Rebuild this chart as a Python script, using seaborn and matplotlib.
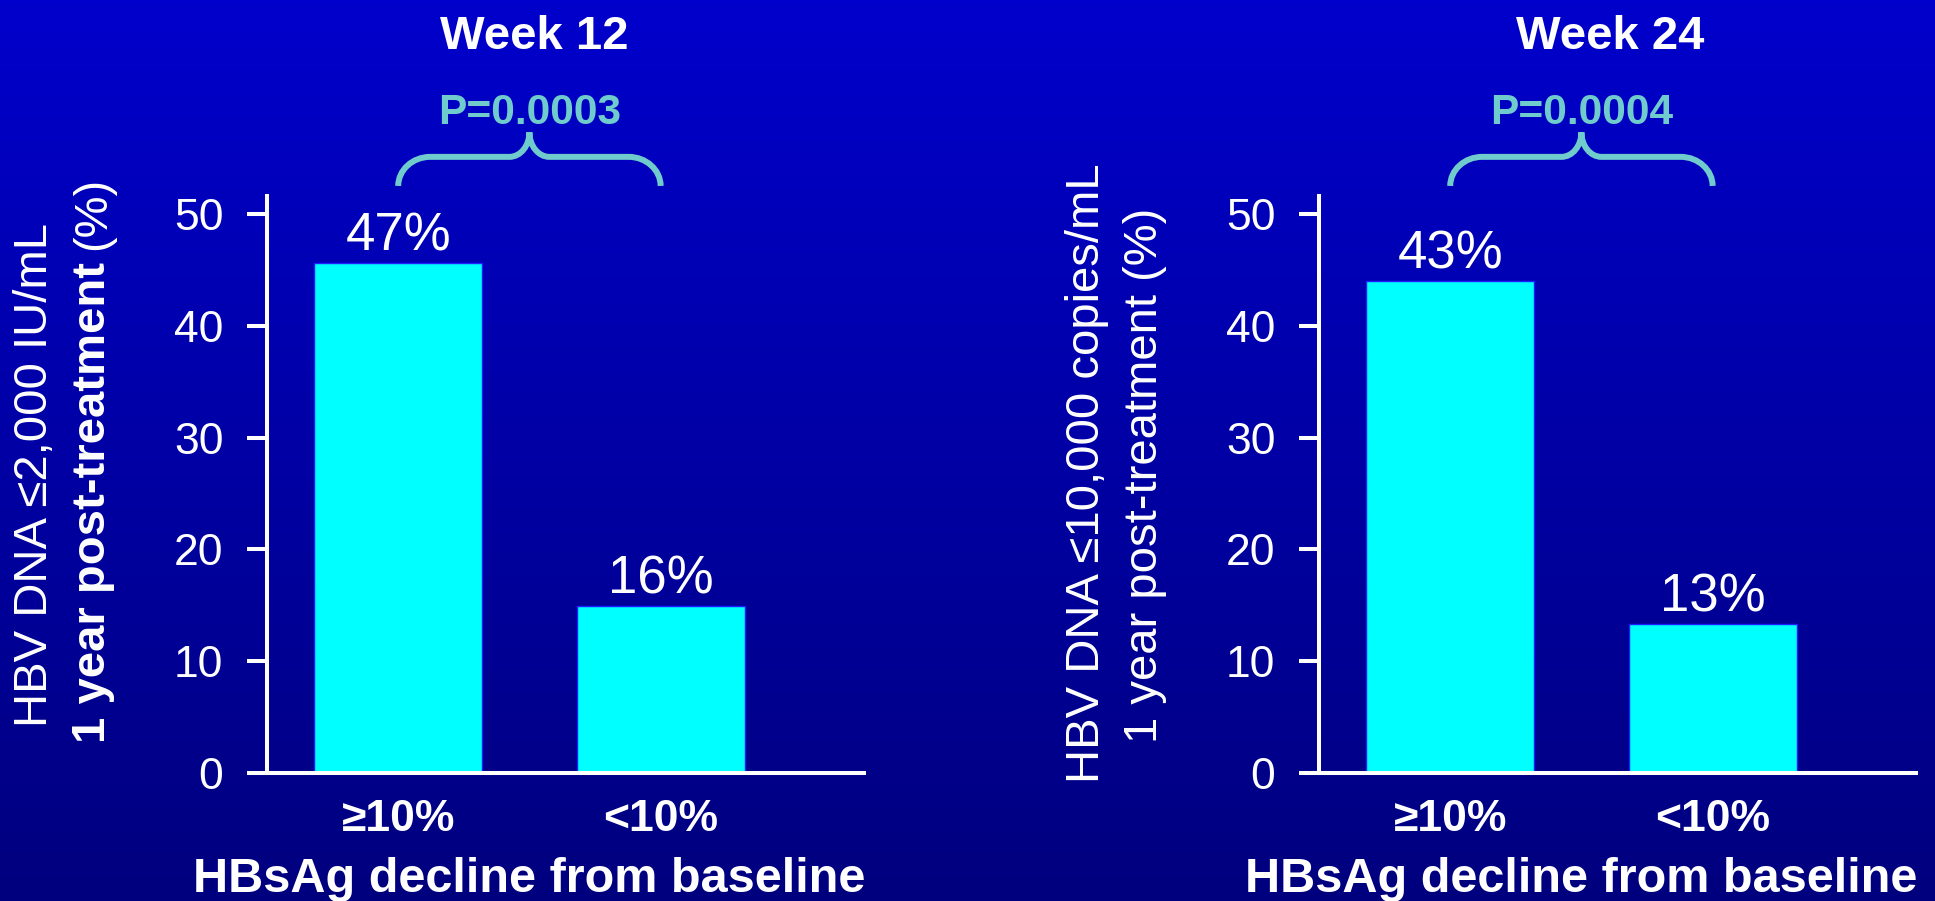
import numpy as np
import matplotlib
matplotlib.use("Agg")
import matplotlib.pyplot as plt
import seaborn as sns
from matplotlib.path import Path
from matplotlib.patches import PathPatch
from matplotlib.colors import LinearSegmentedColormap

# data
groups = ["≥10%", "<10%"]
week12_values = [45.6, 14.9]
week12_labels = ["47%", "16%"]
week24_values = [44.0, 13.3]
week24_labels = ["43%", "13%"]
titles = ["Week 12", "Week 24"]
p_values = ["P=0.0003", "P=0.0004"]
y_ticks = [0, 10, 20, 30, 40, 50]
x_label = "HBsAg decline from baseline"

sns.set_theme(style="white")
plt.rcParams["font.family"] = ["Liberation Sans", "DejaVu Sans"]

W, H = 1935, 901
fig = plt.figure(figsize=(W / 100, H / 100), dpi=100)

# slide background: blue gradient, lighter at the top
bg = fig.add_axes([0, 0, 1, 1], zorder=-10)
grad = np.linspace(0, 1, 256).reshape(-1, 1)
cmap = LinearSegmentedColormap.from_list("slide", ["#0000CC", "#00007E"])
bg.imshow(grad, aspect="auto", cmap=cmap, extent=[0, 1, 0, 1])
bg.axis("off")

teal = "#70CCCC"
cyan = "#00FFFF"


def draw_brace(ax, x0, x1, yb, yh, yt):
    # curly brace from bar centre to bar centre, opening downwards
    rx1, rx2 = 0.122, 0.076
    k = 0.55
    xc = (x0 + x1) / 2
    ry1 = yh - yb
    ry2 = yt - yh
    verts = [
        (x0, yb),
        (x0, yb + k * ry1), (x0 + rx1 - k * rx1, yh), (x0 + rx1, yh),
        (xc - rx2, yh),
        (xc - rx2 + k * rx2, yh), (xc, yt - k * ry2), (xc, yt),
        (xc, yt - k * ry2), (xc + rx2 - k * rx2, yh), (xc + rx2, yh),
        (x1 - rx1, yh),
        (x1 - rx1 + k * rx1, yh), (x1, yb + k * ry1), (x1, yb),
    ]
    codes = [Path.MOVETO,
             Path.CURVE4, Path.CURVE4, Path.CURVE4,
             Path.LINETO,
             Path.CURVE4, Path.CURVE4, Path.CURVE4,
             Path.CURVE4, Path.CURVE4, Path.CURVE4,
             Path.LINETO,
             Path.CURVE4, Path.CURVE4, Path.CURVE4]
    patch = PathPatch(Path(verts, codes), fill=False, edgecolor=teal,
                      linewidth=4.3, clip_on=False, capstyle="butt")
    ax.add_patch(patch)


panels = [
    (267, week12_values, week12_labels, titles[0], p_values[0], 534),
    (1319, week24_values, week24_labels, titles[1], p_values[1], 1610),
]

for left_px, values, labels, title, pval, title_x in panels:
    ax = fig.add_axes([left_px / W, 128 / H, 597 / W, 577 / H])
    sns.barplot(x=groups, y=values, color=cyan, saturation=1, width=0.64,
                edgecolor="#1E1EFF", linewidth=1, ax=ax)
    ax.set_xlim(-0.5, 1.775)
    ax.set_ylim(0, 51.6)
    ax.set_facecolor("none")
    for s in ["top", "right"]:
        ax.spines[s].set_visible(False)
    for s in ["left", "bottom"]:
        ax.spines[s].set_color("white")
        ax.spines[s].set_linewidth(2.9)
    ax.set_yticks(y_ticks)
    ax.tick_params(axis="y", left=True, length=14.4, width=2.9, color="white",
                   labelcolor="white", labelsize=32, pad=17, direction="out")
    ax.tick_params(axis="x", length=0, labelsize=32, labelcolor="white", pad=19)
    for lbl in ax.get_xticklabels():
        lbl.set_fontweight("bold")
    ax.bar_label(ax.containers[0], labels=labels, padding=1, fontsize=38,
                 color="white")
    ax.set_ylabel("")
    ax.set_xlabel(x_label, fontsize=35, fontweight="bold", color="white")
    ax.xaxis.set_label_coords(0.44, -0.206)
    ax.xaxis.label.set_va("baseline")

    draw_brace(ax, 0, 1, 52.5, 55.1, 57.3)
    ax.text(0.5, 58.0, pval, ha="center", va="baseline", fontsize=30.6,
            fontweight="bold", color=teal, clip_on=False)

    fig.text(title_x / W, 1 - 49 / H, title, ha="center", va="baseline",
             fontsize=34, fontweight="bold", color="white")

# y-axis titles
fig.text(35 / W, 1 - 475 / H, "HBV DNA ≤2,000 IU/mL", rotation=90,
         ha="center", va="center", fontsize=34, color="white")
t_bold = fig.text(93 / W, (H - 743) / H, "1 year post-treatment", rotation=90,
                  ha="center", va="bottom", fontsize=34, fontweight="bold",
                  color="white")
fig.canvas.draw()
bb = t_bold.get_window_extent()
fig.text(93 / W, (bb.y1 + 12) / H, "(%)", rotation=90, ha="center",
         va="bottom", fontsize=34, color="white")

fig.text(1087 / W, 1 - 473 / H, "HBV DNA ≤10,000 copies/mL", rotation=90,
         ha="center", va="center", fontsize=34, color="white")
fig.text(1145 / W, 1 - 475 / H, "1 year post-treatment (%)", rotation=90,
         ha="center", va="center", fontsize=34, color="white")

fig.savefig("out.png", dpi=100)
